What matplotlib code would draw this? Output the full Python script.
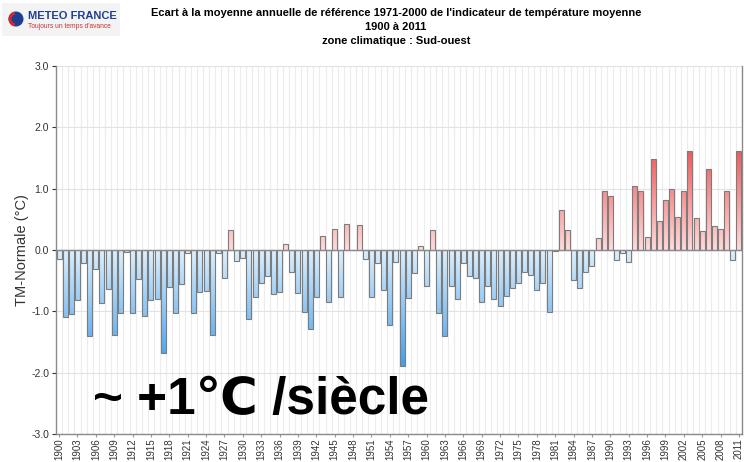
import numpy as np
import matplotlib
matplotlib.use("Agg")
import matplotlib.pyplot as plt
from matplotlib.path import Path
from matplotlib.patches import PathPatch, Circle, Rectangle, Wedge

# data
years = list(range(1900, 2012))
anomaly = [
    -0.15, -1.09, -1.05, -0.82, -0.21, -1.41, -0.31, -0.87, -0.64, -1.39,   # 1900s
    -1.03, -0.04, -1.03, -0.48, -1.07, -0.82, -0.80, -1.68, -0.61, -1.02,   # 1910s
    -0.56, -0.05, -1.03, -0.69, -0.67, -1.39, -0.05, -0.46, 0.32, -0.18,    # 1920s
    -0.13, -1.13, -0.76, -0.53, -0.43, -0.72, -0.69, 0.10, -0.36, -0.70,    # 1930s
    -1.01, -1.28, -0.77, 0.23, -0.85, 0.35, -0.77, 0.42, 0.0, 0.40,         # 1940s
    -0.15, -0.77, -0.22, -0.66, -1.23, -0.20, -1.89, -0.79, -0.38, 0.06,    # 1950s
    -0.59, 0.33, -1.03, -1.41, -0.58, -0.80, -0.22, -0.43, -0.46, -0.84,    # 1960s
    -0.59, -0.80, -0.92, -0.75, -0.62, -0.53, -0.36, -0.41, -0.66, -0.54,   # 1970s
    -1.01, -0.01, 0.66, 0.33, -0.49, -0.62, -0.36, -0.26, 0.20, 0.97,       # 1980s
    0.88, -0.17, -0.05, -0.20, 1.04, 0.96, 0.22, 1.49, 0.47, 0.81,          # 1990s
    1.00, 0.54, 0.97, 1.62, 0.52, 0.31, 1.32, 0.39, 0.34, 0.97,             # 2000s
    -0.17, 1.62,                                                            # 2010s
]
assert len(anomaly) == len(years)
yticks = [3.0, 2.0, 1.0, 0.0, -1.0, -2.0, -3.0]
xtick_years = years[::3]

title = ("Ecart à la moyenne annuelle de référence 1971-2000 de l'indicateur de température moyenne\n"
         "1900 à 2011\nzone climatique : Sud-ouest")
ylabel = "TM-Normale (°C)"
note = "~ +1℃ /siècle"

plt.rcParams["font.family"] = ["Liberation Sans", "DejaVu Sans"]

W, H = 744, 462
fig = plt.figure(figsize=(W / 100, H / 100), dpi=100)
ax = fig.add_axes([56 / W, 1 - 434 / H, (742 - 56) / W, (434 - 66) / H])

x0, x1 = years[0] - 0.5, years[-1] + 0.5
ax.set_xlim(x0, x1)
ax.set_ylim(-3, 3)

# grid
ax.set_xticks([y + 0.5 for y in years], minor=True)
ax.grid(True, which="minor", axis="x", color="#ececec", lw=0.8, zorder=0)
ax.grid(True, which="major", axis="y", color="#e2e2e2", lw=0.8, zorder=0)
ax.tick_params(axis="x", which="minor", length=0)

bars = ax.bar(years, anomaly, width=0.82, facecolor="none", edgecolor="#7c7c7c",
              lw=0.8, zorder=3)

# vertical colour gradient clipped to the bars
yy = np.linspace(-3, 3, 600)
img = np.ones((len(yy), 1, 3))
pale_b, deep_b = np.array([0.87, 0.94, 0.99]), np.array([0.25, 0.62, 0.93])
pale_r, deep_r = np.array([1.0, 0.86, 0.86]), np.array([0.94, 0.33, 0.33])
for i, v in enumerate(yy):
    if v < 0:
        t = min(-v / 1.9, 1)
        img[i, 0] = pale_b + t * (deep_b - pale_b)
    else:
        t = min(v / 1.7, 1)
        img[i, 0] = pale_r + t * (deep_r - pale_r)
im = ax.imshow(img, extent=(x0, x1, -3, 3), origin="lower", aspect="auto",
               interpolation="bilinear", zorder=2)
paths = [b.get_path().transformed(b.get_patch_transform()) for b in bars]
clip = PathPatch(Path.make_compound_path(*paths), transform=ax.transData)
im.set_clip_path(clip)

ax.axhline(0, color="#8a8a8a", lw=1.0, zorder=4)

ax.set_yticks(yticks)
ax.set_yticklabels([f"{v:.1f}" for v in yticks])
ax.set_xticks(xtick_years)
ax.set_xticklabels([str(y) for y in xtick_years], rotation=90)
ax.tick_params(axis="y", which="major", labelsize=7.5, colors="#333333",
               length=3, width=0.8, pad=2)
ax.tick_params(axis="x", which="major", labelsize=7, colors="#333333",
               length=2, width=0.8, pad=1)
ax.tick_params(axis="x", which="major", color="#999999")

for s in ("left", "bottom", "right"):
    ax.spines[s].set_color("#8a8a8a")
    ax.spines[s].set_linewidth(1.0)
ax.spines["top"].set_visible(False)

ax.set_ylabel(ylabel, fontsize=10.5, color="#333333")
ax.yaxis.set_label_coords(-0.04, 0.5)

# titles and annotation
fig.text(396 / W, 1 - 27 / H, title, ha="center", va="center", fontsize=8,
         weight="bold", linespacing=1.5)
fig.text(93 / W, 1 - 414 / H, note, fontsize=37, weight="bold", va="baseline")

# logo
fig.add_artist(Rectangle((2 / W, 1 - 36 / H), 118 / W, 33 / H, transform=fig.transFigure,
                         facecolor="#f3f3f3", edgecolor="none"))
fig.add_artist(Circle((16 / 100, (H - 19) / 100), 0.075, transform=fig.dpi_scale_trans,
                      facecolor="#1d3f91", edgecolor="none"))
fig.add_artist(Wedge((16 / 100, (H - 19) / 100), 0.075, 100, 260, width=0.03,
                     transform=fig.dpi_scale_trans, facecolor="#d9262c", edgecolor="none"))
fig.text(28 / W, 1 - 16 / H, "METEO FRANCE", fontsize=8, weight="bold",
         color="#1d3f91", va="center")
fig.text(28 / W, 1 - 26 / H, "Toujours un temps d'avance", fontsize=4.8,
         color="#c8323a", va="center")

fig.savefig("out.png", dpi=100)
